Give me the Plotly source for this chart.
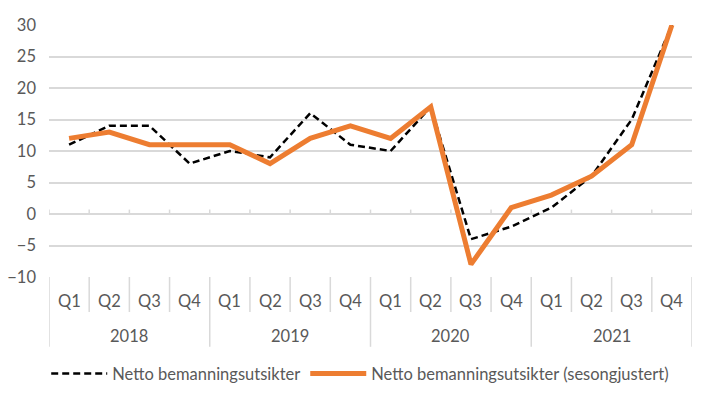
import plotly.graph_objects as go

quarters = ["Q1", "Q2", "Q3", "Q4"] * 4
years = ["2018", "2019", "2020", "2021"]
netto = [11, 14, 14, 8, 10, 9, 16, 11, 10, 17, -4, -2, 1, 6, 15, 30]
sesong = [12, 13, 11, 11, 11, 8, 12, 14, 12, 17, -8, 1, 3, 6, 11, 30]
y_ticks = [-10, -5, 0, 5, 10, 15, 20, 25, 30]
name_a = "Netto bemanningsutsikter"
name_b = "Netto bemanningsutsikter (sesongjustert)"

FONT = "Lato"
TXT = "#595959"
GRID = "#d9d9d9"
FS = 16.5

x = list(range(len(quarters)))

fig = go.Figure()
fig.add_trace(go.Scatter(x=x, y=netto, mode="lines", name=name_a,
                         line=dict(color="#000000", width=2.5, dash="7px,4px")))
fig.add_trace(go.Scatter(x=x, y=sesong, mode="lines", name=name_b,
                         line=dict(color="#ED7D31", width=5)))

shapes = []
n = len(quarters)
for i in range(n + 1):
    b = i - 0.5
    is_year = (i % 4 == 0)
    shapes.append(dict(type="line", xref="x", yref="paper", x0=b, x1=b,
                       y0=0, y1=-0.277 if is_year else -0.139,
                       line=dict(color=GRID, width=1.5), layer="below"))
    shapes.append(dict(type="line", xref="x", yref="y", x0=b, x1=b,
                       y0=0, y1=0.7, line=dict(color=GRID, width=1.5), layer="below"))

annotations = []
for i, q in enumerate(quarters):
    annotations.append(dict(x=i, y=-0.095, xref="x", yref="paper", text=q,
                            showarrow=False, yanchor="middle",
                            font=dict(family=FONT, size=FS, color=TXT)))
for j, yr in enumerate(years):
    annotations.append(dict(x=j * 4 + 1.5, y=-0.234, xref="x", yref="paper", text=yr,
                            showarrow=False, yanchor="middle",
                            font=dict(family=FONT, size=FS, color=TXT)))

fig.update_layout(
    width=711, height=399,
    margin=dict(l=49, r=19, t=24.5, b=122, autoexpand=False),
    paper_bgcolor="white", plot_bgcolor="white",
    font=dict(family=FONT, size=FS, color=TXT),
    shapes=shapes, annotations=annotations,
    showlegend=True,
    legend=dict(orientation="h", x=0.484, xanchor="center", xref="paper",
                y=0.063, yanchor="middle", yref="container", itemwidth=56,
                font=dict(family=FONT, size=FS, color=TXT),
                bgcolor="rgba(0,0,0,0)"),
)
fig.update_xaxes(range=[-0.5, n - 0.5], showgrid=False, zeroline=False,
                 showticklabels=False, showline=False, fixedrange=True)
fig.update_yaxes(range=[-10, 30], tickvals=y_ticks, showgrid=True, gridcolor=GRID,
                 gridwidth=1.5, zeroline=False, showline=False, fixedrange=True,
                 ticklabelstandoff=12, tickfont=dict(family=FONT, size=FS, color=TXT))

fig.write_html("out.html", config={"displayModeBar": False},
               post_script="document.body.style.margin='0';")
